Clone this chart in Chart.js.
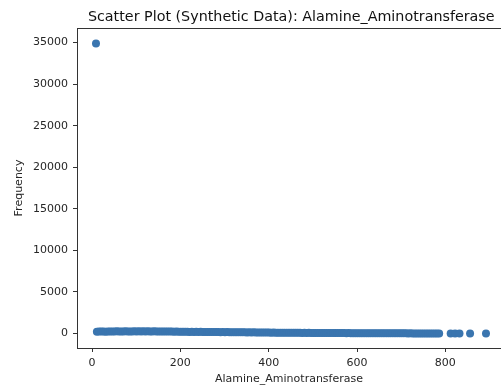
<!DOCTYPE html>
<html>
<head>
<meta charset="utf-8">
<script src="https://cdn.jsdelivr.net/npm/chart.js@4/dist/chart.umd.min.js"></script>
<style>
  html, body { margin: 0; padding: 0; background: #fff; overflow: hidden; }
  canvas { display: block; }
</style>
</head>
<body>
<canvas id="c" width="501" height="390"></canvas>
<script>
// Alamine_Aminotransferase value vs. how often it occurs
const chartTitle = 'Scatter Plot (Synthetic Data): Alamine_Aminotransferase';
const xAxisLabel = 'Alamine_Aminotransferase';
const yAxisLabel = 'Frequency';

const altValues = [
  9,
  11,16,21,26,31,36,41,46,51,56,61,66,71,76,81,86,91,96,101,106,111,116,121,126,131,136,141,146,151,156,161,166,171,176,181,186,191,196,
  201,206,211,216,221,226,231,236,241,246,251,256,261,266,271,276,281,286,291,296,301,306,311,316,321,326,331,336,341,346,351,356,361,366,371,376,381,386,391,396,
  401,406,411,416,421,426,431,436,441,446,451,456,461,466,471,476,481,486,491,496,501,506,511,516,521,526,531,536,541,546,551,556,561,566,571,576,581,586,591,596,
  601,606,611,616,621,626,631,636,641,646,651,656,661,666,671,676,681,686,691,696,701,706,711,716,721,726,731,736,741,746,751,756,761,766,771,776,781,786,
  812,822,832,856,892
];

const frequency = [
  34900,
  212,236,228,241,219,233,247,225,238,251,229,244,236,262,231,248,240,255,233,268,242,251,237,259,246,228,253,239,247,232,244,226,238,221,235,214,229,208,
  205,219,198,211,190,204,186,199,181,193,176,188,170,183,165,177,160,172,156,167,150,162,146,157,141,152,137,147,132,142,128,138,124,133,119,129,115,124,111,120,
  106,98,103,94,99,89,95,85,90,81,86,77,82,73,78,69,74,66,70,62,66,59,62,55,59,52,55,49,52,46,49,43,46,40,43,38,41,35,38,33,
  31,28,30,26,27,24,25,22,23,20,21,18,19,16,17,15,15,13,14,12,12,10,11,9,10,8,8,7,7,6,6,5,5,4,4,3,3,2,
  1,1,1,1,1
];

const xTicks = [0, 200, 400, 600, 800];
const yTicks = [0, 5000, 10000, 15000, 20000, 25000, 30000, 35000];

const points = altValues.map((v, i) => ({ x: v, y: frequency[i] }));

const FONT = 'DejaVu Sans';
const INK = '#262626';
const SPINE = '#333333';

// top edge of the frame plus a title centred over the axes box
const framePlugin = {
  id: 'frame',
  afterDraw(chart) {
    const { ctx, chartArea: a } = chart;
    ctx.save();
    ctx.strokeStyle = SPINE;
    ctx.lineWidth = 1;
    ctx.beginPath();
    ctx.moveTo(a.left, Math.round(a.top) + 0.5);
    ctx.lineTo(a.right, Math.round(a.top) + 0.5);
    ctx.stroke();
    // the frame continues a little past the right edge of the canvas
    const xs = chart.scales.x;
    const boxRight = xs.getPixelForValue(934);
    ctx.fillStyle = '#111';
    ctx.font = '14.3px "' + FONT + '"';
    ctx.textAlign = 'center';
    ctx.textBaseline = 'alphabetic';
    ctx.fillText(chartTitle, (a.left + boxRight) / 2 + 0.5, 20.5);
    ctx.restore();
  }
};

const plain = v => String(v);

new Chart(document.getElementById('c'), {
  type: 'scatter',
  data: {
    datasets: [{
      data: points,
      backgroundColor: '#3a75af',
      borderWidth: 0,
      pointRadius: 4,
      pointHoverRadius: 4,
      clip: false
    }]
  },
  options: {
    responsive: false,
    animation: false,
    devicePixelRatio: 1,
    layout: { autoPadding: false, padding: { left: 0, right: 0, top: 28, bottom: 0 } },
    plugins: { legend: { display: false }, tooltip: { enabled: false }, title: { display: false } },
    scales: {
      x: {
        type: 'linear',
        min: -34,
        max: 926,
        afterBuildTicks(s) { s.ticks = xTicks.map(v => ({ value: v })); },
        afterFit(s) { s.height = 42; },
        grid: { display: true, drawOnChartArea: false, drawTicks: true, tickLength: 4, color: SPINE },
        border: { display: true, color: SPINE, width: 1 },
        ticks: { color: INK, font: { family: FONT, size: 11 }, padding: 5, maxRotation: 0, autoSkip: false, callback: plain },
        title: { display: true, text: xAxisLabel, color: INK, font: { family: FONT, size: 11 }, padding: { top: 0, bottom: 4 } }
      },
      y: {
        type: 'linear',
        min: -1750,
        max: 36750,
        afterBuildTicks(s) { s.ticks = yTicks.map(v => ({ value: v })); },
        afterFit(s) { s.width = 77; },
        grid: { display: true, drawOnChartArea: false, drawTicks: true, tickLength: 4, color: SPINE },
        border: { display: true, color: SPINE, width: 1 },
        ticks: { color: INK, font: { family: FONT, size: 11 }, padding: 5, autoSkip: false, callback: plain },
        title: { display: true, text: yAxisLabel, color: INK, font: { family: FONT, size: 11 }, padding: { top: 13, bottom: 0 } }
      }
    }
  },
  plugins: [framePlugin]
});
</script>
</body>
</html>
